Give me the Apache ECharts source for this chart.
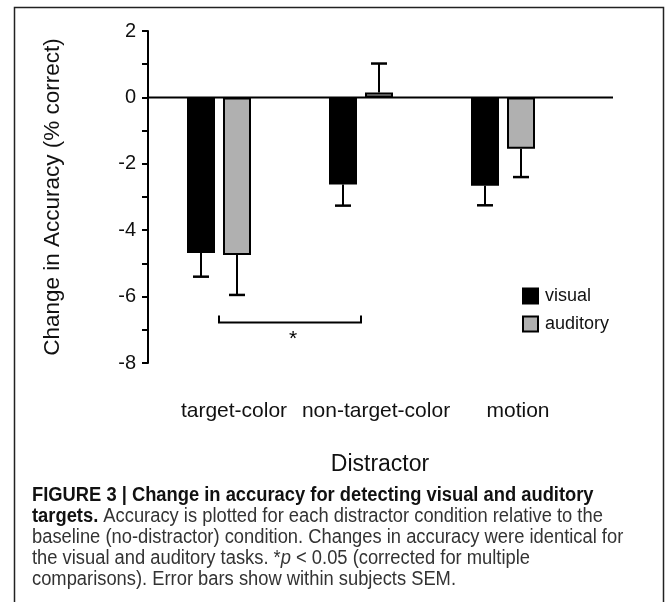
<!DOCTYPE html>
<html><head><meta charset="utf-8">
<script src="https://cdn.jsdelivr.net/npm/echarts@6/dist/echarts.min.js"></script>
<style>html,body{margin:0;padding:0;background:#fff}#c{width:669px;height:602px}</style>
</head><body><div id="c"></div>
<script>
var categories = ['target-color', 'non-target-color', 'motion'];
var visualMean = [-4.69, -2.62, -2.66];
var visualErr = [0.71, 0.64, 0.59];
var auditoryMean = [-4.75, 0.15, -1.55];
var auditoryErr = [1.20, 0.87, 0.85];
var yTicks = [-8, -6, -4, -2, 0, 2];
var sigPairs = [[0, 1, -6.78]];
var sigLabel = '*';

var BW = 28, GAP = 8, OFF = (BW + GAP) / 2;
var chartFont = "'Liberation Sans', Arial, sans-serif";
var capFont = "'Liberation Sans', Arial, sans-serif";

function errRender(offset) {
  return function (params, api) {
    var idx = api.value(0), mean = api.value(1), err = api.value(2);
    var end = mean >= 0 ? mean + err : mean - err;
    var p0 = api.coord([idx, mean]), p1 = api.coord([idx, end]);
    var x = p0[0] + offset, hw = 8;
    return { type: 'group', children: [
      { type: 'line', shape: { x1: x, y1: p0[1], x2: x, y2: p1[1] }, style: { stroke: '#000', lineWidth: 2 } },
      { type: 'line', shape: { x1: x - hw, y1: p1[1], x2: x + hw, y2: p1[1] }, style: { stroke: '#000', lineWidth: 2.5 } }
    ]};
  };
}

var chart = echarts.init(document.getElementById('c'), null, { renderer: 'canvas' });
var option = {
  animation: false,
  textStyle: { fontFamily: chartFont },
  grid: { left: 148, right: 95, top: 31, bottom: 239, containLabel: false },
  legend: {
    data: ['visual', 'auditory'], orient: 'vertical', left: 522, top: 287, padding: 0,
    itemWidth: 15, itemHeight: 15, itemGap: 10, icon: 'rect',
    textStyle: { fontSize: 18, color: '#111', fontFamily: chartFont, padding: [0, 0, 0, 2] }
  },
  xAxis: {
    type: 'category', data: categories,
    axisLine: { show: false, onZero: false }, axisTick: { show: false },
    axisLabel: { interval: 0, hideOverlap: false, fontSize: 21, color: '#111', margin: 38,
      padding: [0, 0, 0, 30], fontFamily: chartFont },
    name: 'Distractor', nameLocation: 'middle', nameGap: 90,
    nameTextStyle: { fontSize: 23, color: '#111', fontFamily: chartFont, padding: [0, 0, 0, 38] }
  },
  yAxis: {
    type: 'value', min: -8, max: 2, interval: 1,
    axisLine: { show: true, lineStyle: { color: '#000', width: 2 } },
    axisTick: { show: true, length: 6, lineStyle: { color: '#000', width: 2 } },
    axisLabel: { fontSize: 20, color: '#111', margin: 12, fontFamily: chartFont,
      formatter: function (v) { return yTicks.indexOf(v) >= 0 ? String(v) : ''; } },
    splitLine: { show: false },
    name: 'Change in Accuracy (% correct)', nameLocation: 'middle', nameGap: 84,
    nameTextStyle: { fontSize: 22.5, color: '#111', fontFamily: chartFont }
  },
  series: [
    { name: 'visual', type: 'bar', data: visualMean, barWidth: BW, barGap: (GAP / BW * 100) + '%',
      itemStyle: { color: '#000', borderColor: '#000', borderWidth: 2 } },
    { name: 'auditory', type: 'bar', data: auditoryMean, barWidth: BW,
      itemStyle: { color: '#b0b0b0', borderColor: '#000', borderWidth: 2 } },
    { name: 'visualErr', type: 'custom', renderItem: errRender(-OFF), z: 5,
      data: visualMean.map(function (m, i) { return [i, m, visualErr[i]]; }) },
    { name: 'auditoryErr', type: 'custom', renderItem: errRender(OFF), z: 5,
      data: auditoryMean.map(function (m, i) { return [i, m, auditoryErr[i]]; }) },
    { name: 'sig', type: 'custom', z: 5,
      data: sigPairs,
      renderItem: function (params, api) {
        var a = api.coord([api.value(0), api.value(2)]);
        var b = api.coord([api.value(1), api.value(2)]);
        return { type: 'group', children: [
          { type: 'polyline', shape: { points: [[a[0], a[1] - 7], [a[0], a[1]], [b[0], a[1]], [b[0], a[1] - 7]] },
            style: { stroke: '#000', lineWidth: 2, fill: null } },
          { type: 'text', style: { text: sigLabel, x: (a[0] + b[0]) / 2 + 3, y: a[1] + 6, align: 'center', verticalAlign: 'top',
            fontSize: 21, fontFamily: chartFont, fill: '#000' } }
        ]};
      } }
  ]
};
chart.setOption(option);

var y0 = chart.convertToPixel({ yAxisIndex: 0 }, 0);
var capText = [
  '{b|FIGURE 3 | Change in accuracy for detecting visual and auditory}',
  '{b|targets.} Accuracy is plotted for each distractor condition relative to the',
  'baseline (no-distractor) condition. Changes in accuracy were identical for',
  'the visual and auditory tasks. *{i|p} < 0.05 (corrected for multiple',
  'comparisons). Error bars show within subjects SEM.'
].join('\n');
chart.setOption({
  graphic: [
    { type: 'line', z: 10, shape: { x1: 147, y1: y0, x2: 613, y2: y0 }, style: { stroke: '#000', lineWidth: 2 } },
    { type: 'rect', z: 0, shape: { x: 14.5, y: 7.5, width: 649, height: 620 }, style: { fill: null, stroke: '#222', lineWidth: 1.5 } },
    { type: 'group', x: 32, y: 485, scaleX: 0.917, z: 10, children: [
      { type: 'text', x: 0, y: 0,
        style: { text: capText, fontFamily: capFont, fontSize: 20, lineHeight: 21, fill: '#333',
          rich: { b: { fontWeight: 'bold', fill: '#111', fontFamily: capFont, fontSize: 20, lineHeight: 21 },
                  i: { fontStyle: 'italic', fill: '#333', fontFamily: capFont, fontSize: 20, lineHeight: 21 } } } }
    ] }
  ]
});
</script>
</body></html>
